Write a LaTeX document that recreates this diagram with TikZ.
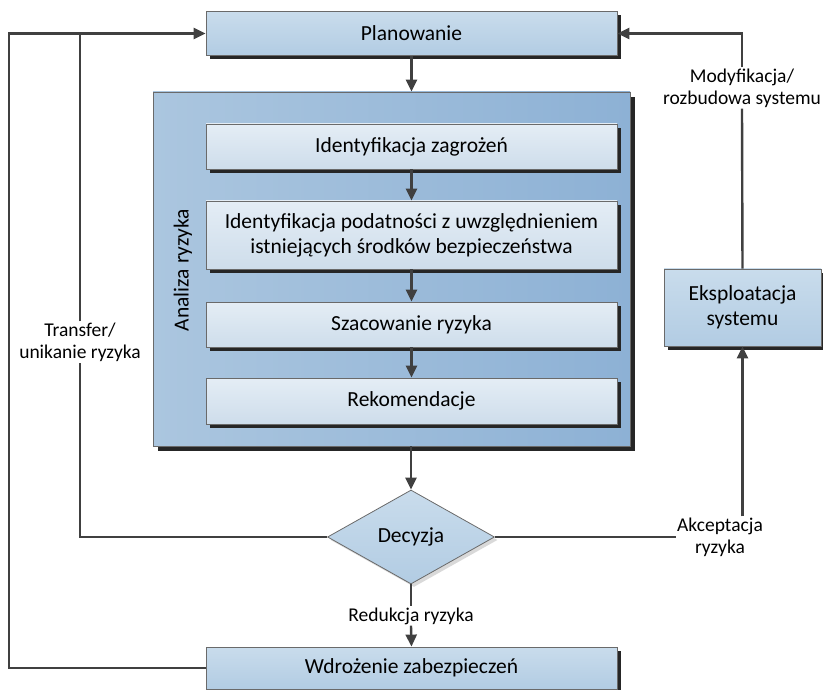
\documentclass[tikz,border=0pt]{standalone}
\usepackage{fontspec}
\setmainfont{Carlito}
\usetikzlibrary{shapes.geometric,arrows.meta,shadows}

\definecolor{linegray}{HTML}{404040}
\definecolor{edgegray}{HTML}{6A6A6A}
\definecolor{boxtop}{HTML}{C9DCEC}
\definecolor{boxbot}{HTML}{B2CCE3}
\definecolor{innertop}{HTML}{E4EDF5}
\definecolor{innerbot}{HTML}{CEDDEB}
\definecolor{outerleft}{HTML}{ABC6DF}
\definecolor{outerright}{HTML}{8DB1D5}

\tikzset{
  darkshadow/.style={drop shadow={shadow xshift=4pt, shadow yshift=-4pt, fill=black!85, opacity=1}},
  mainbox/.style={draw=edgegray, line width=0.8pt, top color=boxtop, bottom color=boxbot,
    minimum width=411pt, inner sep=0pt, align=center, font=\fontsize{21.5}{25}\selectfont, darkshadow},
  innerbox/.style={mainbox, top color=innertop, bottom color=innerbot},
  decision/.style={diamond, draw=edgegray, line width=0.8pt, top color=boxtop, bottom color=boxbot,
    minimum width=167pt, minimum height=94pt, inner sep=0pt, aspect=1.78,
    font=\fontsize{21.5}{25}\selectfont,
    drop shadow={shadow xshift=3pt, shadow yshift=-3pt, fill=black!15, opacity=1}},
  flowlabel/.style={fill=white, inner sep=1pt, align=center, font=\fontsize{19.5}{22}\selectfont},
  conn/.style={draw=linegray, line width=2.4pt},
  arr/.style={conn, -{Triangle[length=12pt, width=11pt]}},
}

\begin{document}
\begin{tikzpicture}[x=1pt, y=-1pt]
  \useasboundingbox (0,0) rectangle (823,690);

  % top planning step
  \node[mainbox, minimum height=44pt] (plan) at (411.5,33.5) {Planowanie};

  % risk analysis container and its steps
  \node[draw=edgegray, line width=0.8pt, left color=outerleft, right color=outerright,
        minimum width=477pt, minimum height=354pt, inner sep=0pt,
        drop shadow={shadow xshift=5pt, shadow yshift=-5pt, fill=black!85, opacity=1}]
        (analiza) at (391.5,269) {};
  \node[rotate=90, font=\fontsize{21.5}{25}\selectfont] (analizatxt) at (183,270) {Analiza ryzyka};

  \node[innerbox, minimum height=45pt] (zagr) at (411.5,146.5) {Identyfikacja zagrożeń};
  \node[innerbox, minimum height=68pt] (podat) at (411.5,235)
    {Identyfikacja podatności z uwzględnieniem\\istniejących środków bezpieczeństwa};
  \node[innerbox, minimum height=45pt] (szac) at (411.5,324.5) {Szacowanie ryzyka};
  \node[innerbox, minimum height=46pt] (rekom) at (411.5,401) {Rekomendacje};

  % decision and outcomes
  \node[decision] (decyzja) at (411,537) {Decyzja};
  \node[mainbox, minimum width=157pt, minimum height=77pt] (eksp) at (742.5,307.5)
    {Eksploatacja\\systemu};
  \node[mainbox, minimum height=42pt] (wdroz) at (411.5,668) {Wdrożenie zabezpieczeń};

  % edge labels
  \node[flowlabel] (transfer) at (80,342) {Transfer/\\unikanie ryzyka};
  \node[flowlabel] (modyf) at (742,88) {Modyfikacja/\\rozbudowa systemu};
  \node[flowlabel] (akcept) at (720,537) {Akceptacja\\ryzyka};
  \node[flowlabel] (redukcja) at (411,616) {Redukcja ryzyka};

  \coordinate (outer) at (9,33.5);

  % main flow
  \draw[arr] (plan) -- (analiza.north -| plan);
  \draw[arr] (zagr) -- (podat);
  \draw[arr] (podat) -- (szac);
  \draw[arr] (szac) -- (rekom);
  \draw[arr] (analiza.south -| decyzja) -- (decyzja.north);
  \draw[conn] (decyzja.south) -- (redukcja.north);
  \draw[arr] (redukcja.south) -- (wdroz.north);

  % acceptance loop
  \draw[conn] (decyzja.east) -- (akcept.west);
  \draw[arr] (akcept.north -| eksp) -- (eksp.south);
  \draw[conn] (eksp.north) -- (modyf.south);
  \draw[arr] (modyf.north) |- (plan.east);

  % transfer / avoidance loop
  \draw[conn] (decyzja.west) -| (transfer.south);
  \draw[conn] (transfer.north) -- (transfer.north |- outer);

  % implementation loop
  \draw[arr] (wdroz.west) -| (outer) -- (plan.west);
\end{tikzpicture}
\end{document}
